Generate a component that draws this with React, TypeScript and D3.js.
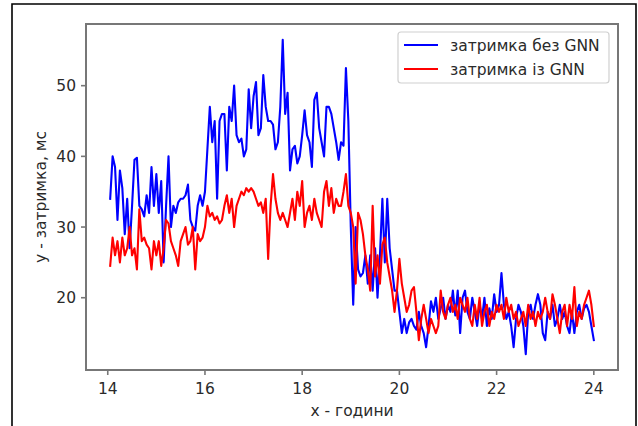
import React from "react";
import * as d3 from "d3";

const START_HOUR = 14.05;
const STEP_HOUR = 0.05;

const seriesLabels = ["затримка без GNN", "затримка із GNN"];
const seriesColors = ["#0000ff", "#ff0000"];

const delayWithoutGNN = [
  34, 40, 38.5, 31, 38, 35.5, 29, 34, 27, 33,
  39.5, 39.8, 33, 32.5, 31.5, 34.5, 32, 38.5, 33, 37.5,
  32, 36.5, 25, 33, 40, 30, 33, 32, 33.5, 34,
  34, 34.5, 36, 31, 30, 29.5, 33, 34.5, 33, 35,
  41, 47, 42, 45, 34, 45, 46, 46, 38, 47,
  45, 50, 43, 42, 42.5, 40, 41, 49.5, 44, 48.5,
  50.5, 43, 44, 51.5, 47, 45, 45, 44.5, 41, 42,
  47, 56.5, 46, 49, 38, 41, 41.5, 39, 40, 43,
  46.5, 43, 42, 38.5, 48, 49, 44, 42, 40, 47,
  47, 46, 44, 42, 39.5, 42, 41.5, 52.5, 45, 30,
  19, 30, 24, 23, 23.5, 26, 22, 26, 21, 27,
  20, 26, 34, 25, 34, 27, 24, 21, 21, 18,
  15, 17, 15, 16.5, 17, 16, 15.5, 18, 16, 15,
  13, 16, 19.5, 18, 20, 17, 18.5, 20, 17, 19,
  18, 21, 17.5, 21, 15, 20, 21, 18, 17, 20,
  18, 16, 19, 17, 20, 16, 18.5, 17, 20.5, 18,
  19, 23.5, 19, 17, 18, 16, 13, 17, 19, 18,
  16, 12, 18, 19, 17, 19, 20.5, 19, 15, 14,
  18, 17, 19, 16, 17, 19, 17, 18, 16, 15,
  18, 15, 18, 19, 17, 18.5, 19, 18, 16, 14,
];

const delayWithGNN = [
  24.5, 28.5, 26, 28, 25, 28.5, 26, 27, 30, 26,
  27, 24, 32.5, 28, 28.5, 27.5, 27, 24, 28, 26,
  28, 24.5, 27, 31, 30.5, 28, 27, 26, 24.5, 28,
  29, 30, 27.5, 28, 30, 24, 29, 28, 28.5, 30,
  33, 31.5, 32, 31, 31.5, 30.5, 31, 33, 34.5, 32,
  34, 30, 33, 34, 35, 34.5, 35.5, 35, 35.5, 35,
  34, 33, 33.5, 32, 34, 25.5, 33, 37.5, 34, 32,
  31, 32, 31, 30, 32, 34, 31, 35, 33, 36.5,
  30, 32, 33, 31, 34, 32, 31, 30, 35, 36.5,
  33, 35.5, 32, 34, 33, 33, 35, 37.5, 33, 32,
  30, 22, 32, 31, 29, 26, 24, 21, 33, 23,
  26, 22, 27.5, 28.5, 25, 23, 21, 18, 21, 25.5,
  22, 20, 18, 19, 21, 21.5, 18, 14, 17, 19,
  17, 15, 17, 16, 15, 16, 21, 18, 17, 19,
  20, 18, 19, 17, 20, 19, 18, 20, 17, 16,
  19, 17, 20, 16, 18, 19, 16, 18, 17, 19,
  18, 19, 17, 20, 18, 19, 17, 18, 16, 17,
  18, 16, 19, 17, 18, 16, 18, 17, 18, 20,
  18, 17, 20.5, 19, 17, 15, 18, 19, 16, 19,
  17, 21.5, 16, 18, 17, 19, 20, 21, 19, 16,
];

const xTicks = [14, 16, 18, 20, 22, 24];
const yTicks = [20, 30, 40, 50];
const xLabel = "x - години";
const yLabel = "у - затримка, мс";

const W = 638;
const H = 426;
const plot = { left: 86, top: 24, right: 618, bottom: 370 };
const FONT = "'DejaVu Sans', sans-serif";
const FS = 15.5;
const TEXT = "#2a2a2a";
const SPINE = "#777";

export default function App() {
  const allSeries = [delayWithoutGNN, delayWithGNN];
  const hours = delayWithoutGNN.map((_, i) => START_HOUR + i * STEP_HOUR);
  const xMin = d3.min(hours)!;
  const xMax = d3.max(hours)!;
  const xPad = (xMax - xMin) * 0.05;
  const allVals = allSeries.flat();
  const yMin = d3.min(allVals)!;
  const yMax = d3.max(allVals)!;
  const yPad = (yMax - yMin) * 0.05;

  const x = d3.scaleLinear().domain([xMin - xPad, xMax + xPad]).range([plot.left, plot.right]);
  const y = d3.scaleLinear().domain([yMin - yPad, yMax + yPad]).range([plot.bottom, plot.top]);

  const line = d3
    .line<number>()
    .x((_, i) => x(hours[i]))
    .y((d) => y(d));

  const legend = { x: 398, y: 32, w: 211, h: 51 };

  return (
    <svg
      width={W}
      height={H}
      style={{ position: "fixed", left: 0, top: 0, display: "block", background: "#fff" }}
    >
      <rect x={0} y={0} width={W} height={H} fill="#fff" />
      {/* outer frame */}
      <path d={`M12,${H + 5}V4H636V${H + 5}`} fill="none" stroke="#000" strokeWidth={1.6} />

      {/* series */}
      {allSeries.map((s, k) => (
        <path
          key={k}
          d={line(s) || ""}
          fill="none"
          stroke={seriesColors[k]}
          strokeWidth={2.1}
          strokeLinejoin="round"
          strokeLinecap="square"
        />
      ))}

      {/* spines */}
      <rect
        x={plot.left}
        y={plot.top}
        width={plot.right - plot.left}
        height={plot.bottom - plot.top}
        fill="none"
        stroke={SPINE}
        strokeWidth={2}
      />

      {/* x ticks */}
      {xTicks.map((t) => (
        <g key={"x" + t}>
          <line x1={x(t)} x2={x(t)} y1={plot.bottom} y2={plot.bottom + 5} stroke={SPINE} strokeWidth={1.6} />
          <text
            x={x(t)}
            y={plot.bottom + 24}
            textAnchor="middle"
            fontFamily={FONT}
            fontSize={FS}
            fill={TEXT}
          >
            {t}
          </text>
        </g>
      ))}

      {/* y ticks */}
      {yTicks.map((t) => (
        <g key={"y" + t}>
          <line x1={plot.left - 5} x2={plot.left} y1={y(t)} y2={y(t)} stroke={SPINE} strokeWidth={1.6} />
          <text
            x={plot.left - 10}
            y={y(t)}
            dy="0.36em"
            textAnchor="end"
            fontFamily={FONT}
            fontSize={FS}
            fill={TEXT}
          >
            {t}
          </text>
        </g>
      ))}

      {/* axis labels */}
      <text
        x={(plot.left + plot.right) / 2}
        y={416}
        textAnchor="middle"
        fontFamily={FONT}
        fontSize={FS}
        fill={TEXT}
      >
        {xLabel}
      </text>
      <text
        transform={`translate(46,${(plot.top + plot.bottom) / 2}) rotate(-90)`}
        textAnchor="middle"
        fontFamily={FONT}
        fontSize={FS}
        fill={TEXT}
      >
        {yLabel}
      </text>

      {/* legend */}
      <rect
        x={legend.x}
        y={legend.y}
        width={legend.w}
        height={legend.h}
        rx={3}
        fill="#fff"
        fillOpacity={0.8}
        stroke="#d0d0d0"
        strokeWidth={1.2}
      />
      {seriesLabels.map((lab, k) => {
        const cy = 45 + k * 24;
        return (
          <g key={lab}>
            <line x1={404} x2={438} y1={cy} y2={cy} stroke={seriesColors[k]} strokeWidth={2.1} />
            <text x={450} y={cy} dy="0.36em" fontFamily={FONT} fontSize={FS} fill={TEXT}>
              {lab}
            </text>
          </g>
        );
      })}
    </svg>
  );
}
